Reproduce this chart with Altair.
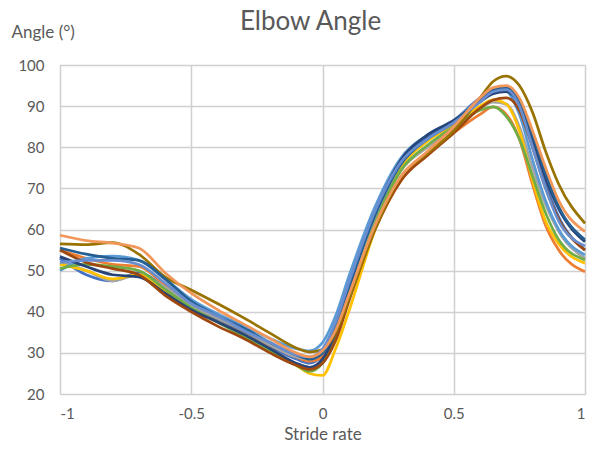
import altair as alt
import pandas as pd

X = [-1, -0.9, -0.8, -0.7, -0.6, -0.5, -0.4, -0.3, -0.2, -0.1, -0.05, 0, 0.05, 0.1,
     0.2, 0.3, 0.4, 0.5, 0.6, 0.65, 0.7, 0.75, 0.8, 0.85, 0.9, 1.0]

S01_blue = [53, 49, 47.5, 49.5, 46, 41.5, 38, 35, 31.5, 28.5, 27.5, 29.5, 36, 46, 64, 76.5, 82.5, 86.5, 92, 94, 94.5, 90.5, 81, 71, 63, 55]
S02_orange = [55, 53, 51.5, 51, 46.5, 41.5, 38.5, 35.5, 32, 29, 28, 29, 34, 43, 60, 72, 78.5, 83.5, 88, 89.8, 88, 82, 71, 61, 55, 49.7]
S03_gray = [52, 50, 47.5, 49, 46, 41.5, 38.5, 35.5, 32, 29, 28.5, 30, 36, 45.5, 62.5, 74.5, 80, 84.5, 89.5, 91, 90.5, 85, 75, 66, 59.5, 53]
S04_gold = [51.5, 50, 48, 49, 45, 40.5, 37.5, 34.5, 31, 27, 25, 24.5, 31, 40, 60, 75, 81.5, 85.5, 90, 91.5, 90.5, 84, 72, 62, 56.5, 51.8]
S05_lightblue = [50, 53, 53.5, 52.5, 48, 43, 39.5, 36.5, 33.5, 31, 30.5, 32.5, 39, 48.5, 65.5, 77.5, 83, 86.5, 91.5, 93.5, 93.5, 88, 77, 67, 60, 53.8]
S06_green = [50.5, 51.5, 51, 50, 45.5, 41, 37.5, 34, 30.5, 27, 25.5, 27.5, 33.5, 43, 61.5, 74.5, 80.5, 85, 89, 89.8, 87.5, 82, 73, 64, 57.5, 52.6]
S07_darkblue = [53.4, 51, 49, 48.5, 44.5, 40.5, 37.5, 34.5, 31, 27.5, 26.5, 28.5, 35, 45.5, 64, 77, 83, 86.5, 91, 93, 93.5, 90.5, 82.5, 72.5, 65, 57]
S08_brown = [55, 52, 50.5, 49, 44, 40, 36.5, 33.5, 30, 27, 26, 27.5, 33, 42.5, 60, 72, 78, 83.5, 89.5, 91.5, 92, 89, 80, 70, 62.5, 55]
S09_olive = [56.5, 56.3, 56.8, 54, 48.5, 45.3, 42, 38.5, 34.8, 31.2, 30.2, 30.8, 35, 43, 60, 73, 78.5, 84, 92, 96, 97.3, 95, 88.5, 79, 71, 61.5]
S10_steel = [55.5, 54, 53, 52.5, 48, 42.5, 39, 36, 32.5, 29.5, 28.5, 30, 36.5, 46, 63.5, 76, 82, 86, 91.5, 94, 94.5, 91, 83, 73.5, 65.5, 57.5]
S11_periwinkle = [52, 52.5, 52.5, 51.5, 47, 42, 39, 35.5, 32.5, 29.5, 29, 31, 37.5, 47, 64.5, 76.5, 82, 86, 91, 93.5, 94, 90, 80, 70, 62, 56]
S12_lightorange = [58.6, 57.3, 56.7, 55.5, 49.5, 44.5, 40.5, 37, 33.5, 30, 29, 30.5, 35.5, 44, 61, 73, 79, 85, 92, 94.5, 95, 92, 84, 75, 67, 59.5]

series = {
    "S01": S01_blue, "S02": S02_orange, "S03": S03_gray, "S04": S04_gold,
    "S05": S05_lightblue, "S06": S06_green, "S07": S07_darkblue, "S08": S08_brown,
    "S09": S09_olive, "S10": S10_steel, "S11": S11_periwinkle, "S12": S12_lightorange,
}
colors = ["#4472C4", "#ED7D31", "#A5A5A5", "#FFC000", "#5B9BD5", "#70AD47",
          "#264478", "#9E480E", "#997300", "#255E91", "#698ED0", "#F1975A"]

rows = []
for name, vals in series.items():
    for xv, yv in zip(X, vals):
        rows.append({"series": name, "x": xv, "y": yv})
df = pd.DataFrame(rows)

FONT = "Lato"
GRID = "#D0D0D0"
TXT = "#595959"

chart = alt.Chart(df).mark_line(strokeWidth=2.75, interpolate="monotone").encode(
    x=alt.X("x:Q", scale=alt.Scale(domain=[-1, 1], nice=False),
            axis=alt.Axis(values=[-1, -0.5, 0, 0.5, 1], labelExpr="'' + datum.value",
                          title="Stride rate", grid=True, gridColor=GRID, gridWidth=1.5,
                          domain=False, ticks=False, labelPadding=12, labelFontSize=15,
                          labelColor=TXT, titleFontSize=17, titleColor=TXT,
                          titleFontWeight="normal", titlePadding=5, labelFont=FONT,
                          titleFont=FONT)),
    y=alt.Y("y:Q", scale=alt.Scale(domain=[20, 100], nice=False),
            axis=alt.Axis(values=list(range(20, 101, 10)), title="Angle (°)", grid=True,
                          gridColor=GRID, gridWidth=1.5, domain=False, ticks=False,
                          labelPadding=16, labelFontSize=15, labelColor=TXT,
                          titleFontSize=17, titleColor=TXT, titleFontWeight="normal",
                          titleAngle=0, titleAlign="left", titleBaseline="middle",
                          titleX=-49, titleY=-33, labelFont=FONT, titleFont=FONT)),
    color=alt.Color("series:N", scale=alt.Scale(domain=list(series.keys()), range=colors),
                    legend=None),
    order=alt.Order("series:N"),
).properties(
    width=525, height=329,
    title=alt.TitleParams("Elbow Angle", fontSize=26, font=FONT, color=TXT,
                          fontWeight="normal", anchor="middle", frame="group",
                          dx=-12, offset=-12),
    autosize=alt.AutoSizeParams(type="none"),
    padding={"left": 60, "top": 65, "right": 8, "bottom": 60},
).configure_view(stroke=GRID, strokeWidth=1.5).configure(background="white")

chart.save("out.html", embed_options={"renderer": "svg", "actions": False})
